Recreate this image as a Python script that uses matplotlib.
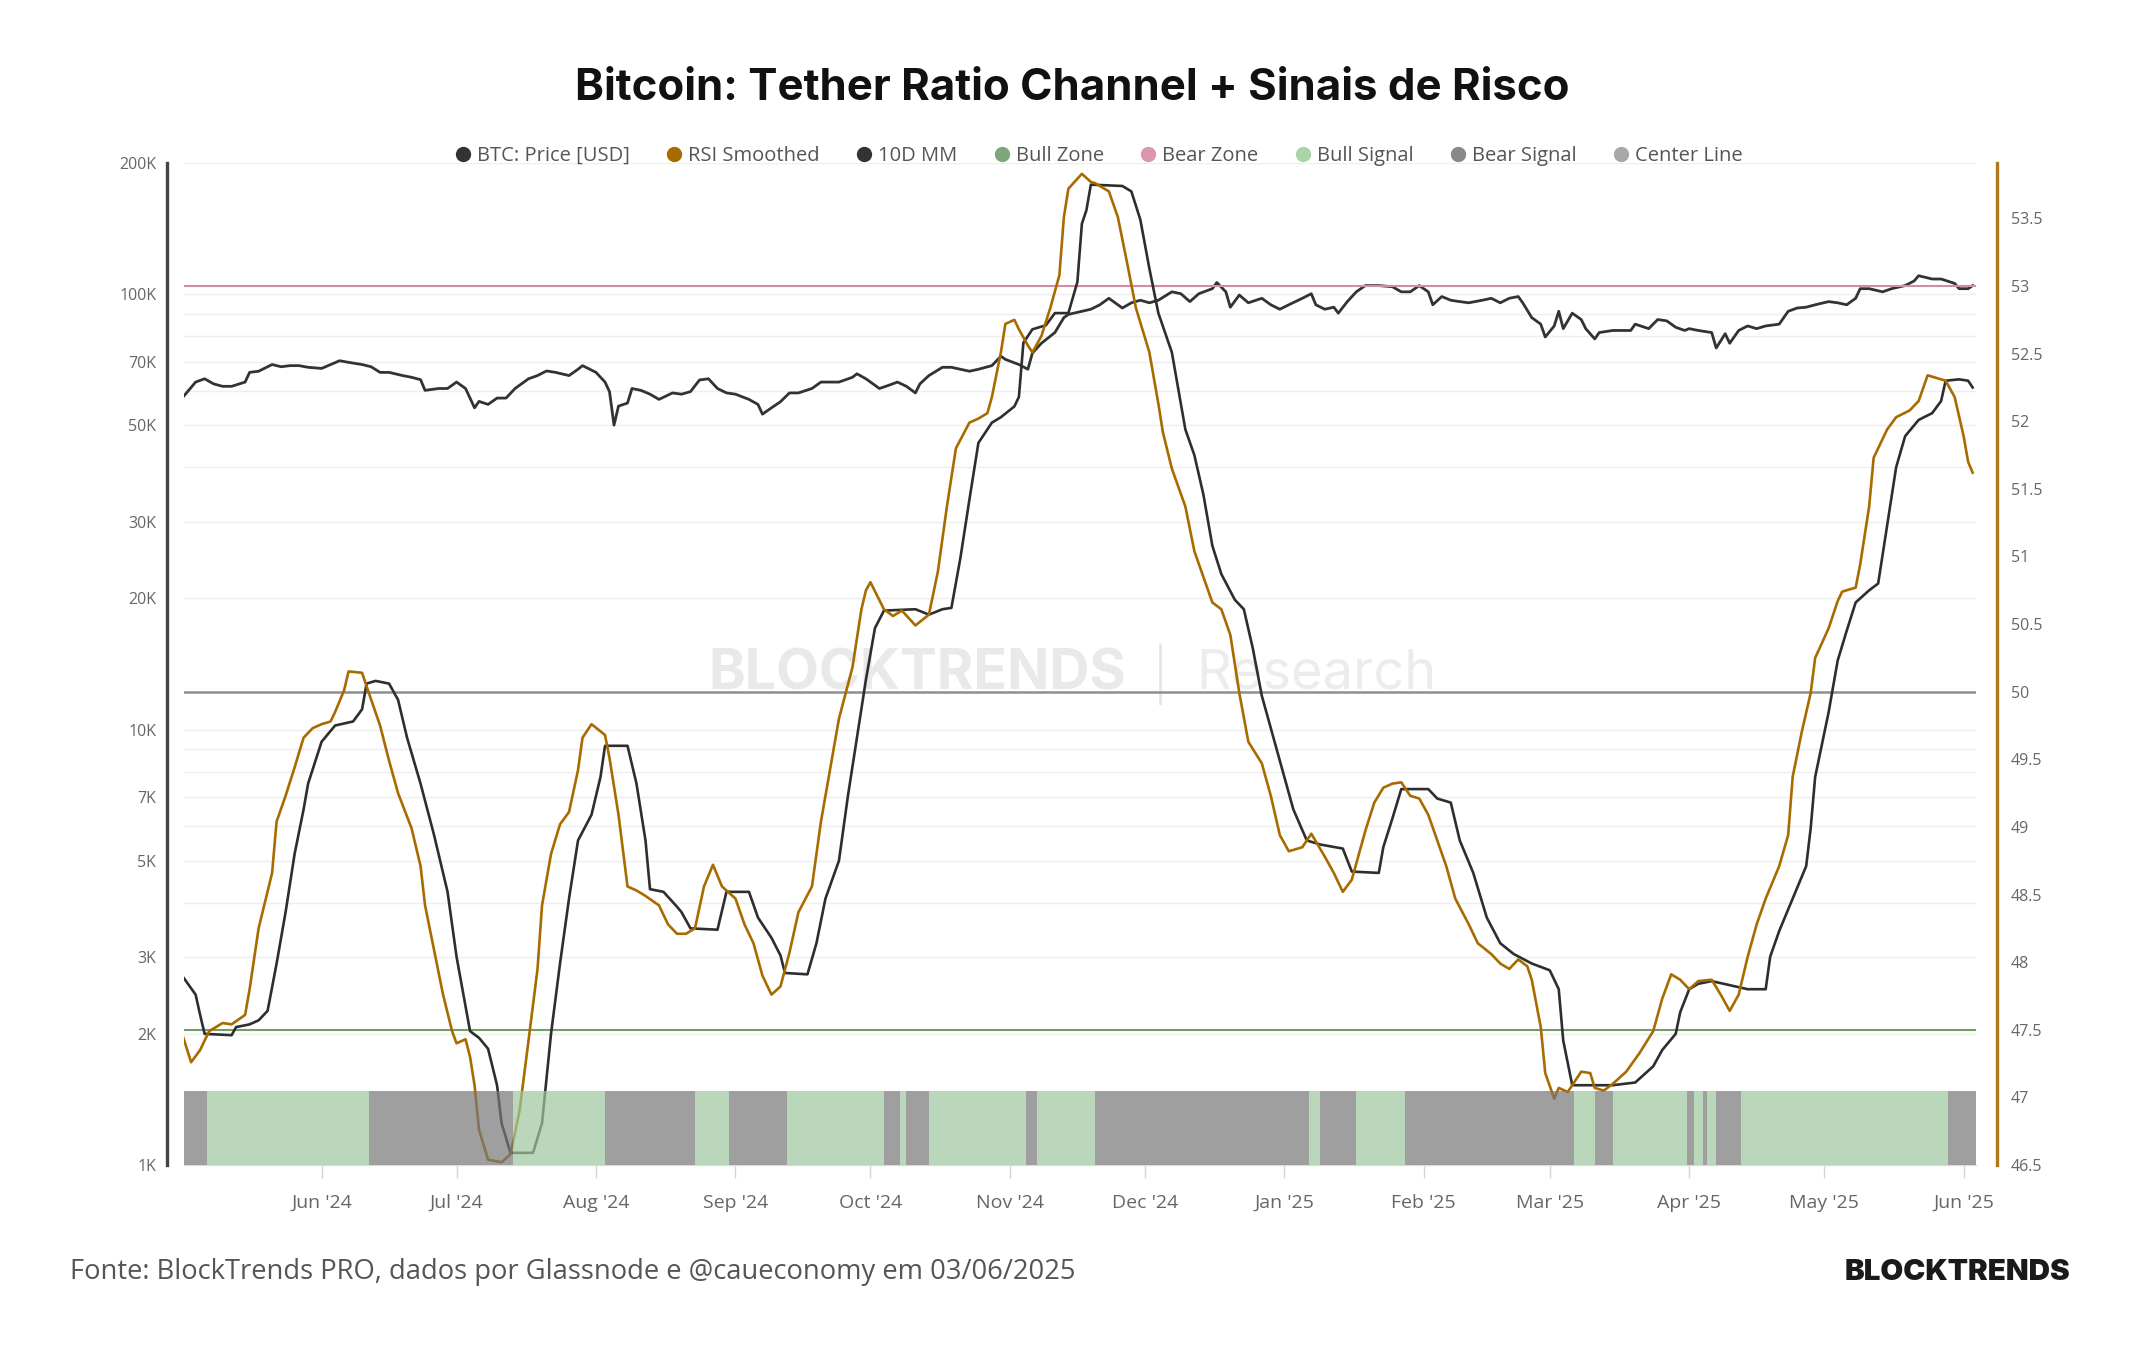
import matplotlib
matplotlib.use("Agg")
import matplotlib.pyplot as plt
import matplotlib.dates as mdates
from matplotlib.lines import Line2D
from matplotlib.ticker import FixedLocator, NullFormatter, FuncFormatter
import pandas as pd

plt.rcParams['font.family'] = ['Open Sans', 'DejaVu Sans']

# ---------------- data ----------------
# RSI Smoothed (right axis)
rsi_dates = [
    '2024-05-01', '2024-05-03', '2024-05-05', '2024-05-07', '2024-05-10', '2024-05-12', '2024-05-15', '2024-05-16',
    '2024-05-18', '2024-05-21', '2024-05-22', '2024-05-24', '2024-05-26', '2024-05-28', '2024-05-30',
    '2024-06-01', '2024-06-03', '2024-06-04', '2024-06-06', '2024-06-07', '2024-06-10', '2024-06-11', '2024-06-14',
    '2024-06-16', '2024-06-18', '2024-06-21', '2024-06-23', '2024-06-24', '2024-06-26', '2024-06-28', '2024-06-30',
    '2024-07-01', '2024-07-03', '2024-07-04', '2024-07-05', '2024-07-06', '2024-07-08', '2024-07-11', '2024-07-13',
    '2024-07-15', '2024-07-17', '2024-07-19', '2024-07-20', '2024-07-22', '2024-07-24', '2024-07-26', '2024-07-28',
    '2024-07-29', '2024-07-31',
    '2024-08-03', '2024-08-04', '2024-08-06', '2024-08-08', '2024-08-10', '2024-08-12', '2024-08-15', '2024-08-17',
    '2024-08-19', '2024-08-21', '2024-08-23', '2024-08-25', '2024-08-27', '2024-08-29',
    '2024-09-01', '2024-09-03', '2024-09-05', '2024-09-07', '2024-09-09', '2024-09-11', '2024-09-13', '2024-09-15',
    '2024-09-18', '2024-09-20', '2024-09-22', '2024-09-24', '2024-09-27', '2024-09-29', '2024-09-30',
    '2024-10-01', '2024-10-04', '2024-10-06', '2024-10-08', '2024-10-11', '2024-10-14', '2024-10-16', '2024-10-18',
    '2024-10-20', '2024-10-23', '2024-10-25', '2024-10-27', '2024-10-28', '2024-10-30', '2024-10-31',
    '2024-11-02', '2024-11-03', '2024-11-05', '2024-11-06', '2024-11-08', '2024-11-10', '2024-11-12', '2024-11-13',
    '2024-11-14', '2024-11-17', '2024-11-19', '2024-11-20', '2024-11-23', '2024-11-25', '2024-11-27', '2024-11-29',
    '2024-12-02', '2024-12-04', '2024-12-05', '2024-12-07', '2024-12-10', '2024-12-12', '2024-12-14', '2024-12-16',
    '2024-12-18', '2024-12-20', '2024-12-22', '2024-12-24', '2024-12-27', '2024-12-29', '2024-12-31',
    '2025-01-02', '2025-01-05', '2025-01-07', '2025-01-10', '2025-01-12', '2025-01-14', '2025-01-16', '2025-01-19',
    '2025-01-21', '2025-01-23', '2025-01-25', '2025-01-27', '2025-01-29', '2025-01-31',
    '2025-02-02', '2025-02-04', '2025-02-06', '2025-02-08', '2025-02-11', '2025-02-13', '2025-02-16', '2025-02-18',
    '2025-02-20', '2025-02-22', '2025-02-24', '2025-02-25', '2025-02-27', '2025-02-28',
    '2025-03-02', '2025-03-03', '2025-03-05', '2025-03-06', '2025-03-08', '2025-03-10', '2025-03-11', '2025-03-13',
    '2025-03-15', '2025-03-18', '2025-03-21', '2025-03-24', '2025-03-26', '2025-03-28', '2025-03-30',
    '2025-04-01', '2025-04-03', '2025-04-06', '2025-04-08', '2025-04-10', '2025-04-12', '2025-04-14', '2025-04-16',
    '2025-04-18', '2025-04-21', '2025-04-23', '2025-04-24', '2025-04-26', '2025-04-28', '2025-04-29',
    '2025-05-02', '2025-05-04', '2025-05-05', '2025-05-08', '2025-05-09', '2025-05-11', '2025-05-12', '2025-05-15',
    '2025-05-17', '2025-05-20', '2025-05-22', '2025-05-24', '2025-05-26', '2025-05-28', '2025-05-30',
    '2025-06-01', '2025-06-02', '2025-06-03']
rsi_vals = [
    47.47, 47.26, 47.35, 47.49, 47.55, 47.54, 47.61, 47.80, 48.25, 48.66, 49.04, 49.23, 49.44, 49.66, 49.73,
    49.76, 49.78, 49.85, 50.01, 50.15, 50.14, 50.04, 49.75, 49.49, 49.25, 48.99, 48.71, 48.42, 48.09, 47.76, 47.49,
    47.40, 47.43, 47.30, 47.09, 46.76, 46.54, 46.52, 46.58, 46.90, 47.42, 47.95, 48.42, 48.80, 49.02, 49.11, 49.42,
    49.66, 49.76,
    49.68, 49.51, 49.09, 48.56, 48.53, 48.49, 48.42, 48.28, 48.21, 48.21, 48.25, 48.56, 48.72, 48.56,
    48.47, 48.28, 48.14, 47.90, 47.76, 47.82, 48.07, 48.37, 48.56, 49.04, 49.42, 49.80, 50.18, 50.61, 50.75,
    50.81, 50.61, 50.56, 50.60, 50.49, 50.57, 50.89, 51.37, 51.80, 51.99, 52.02, 52.06, 52.18, 52.51, 52.72,
    52.75, 52.68, 52.56, 52.51, 52.63, 52.84, 53.08, 53.51, 53.72, 53.83, 53.77, 53.76, 53.70, 53.51, 53.18, 52.84,
    52.51, 52.13, 51.92, 51.65, 51.37, 51.04, 50.85, 50.66, 50.61, 50.42, 49.99, 49.63, 49.47, 49.23, 48.94,
    48.82, 48.85, 48.95, 48.78, 48.66, 48.52, 48.61, 48.97, 49.18, 49.29, 49.32, 49.33, 49.23, 49.21,
    49.09, 48.90, 48.71, 48.47, 48.28, 48.14, 48.06, 47.99, 47.95, 48.02, 47.97, 47.87, 47.52, 47.18,
    46.99, 47.07, 47.04, 47.09, 47.19, 47.18, 47.07, 47.05, 47.10, 47.19, 47.33, 47.49, 47.73, 47.91, 47.87,
    47.80, 47.86, 47.87, 47.76, 47.64, 47.76, 48.04, 48.28, 48.47, 48.71, 48.94, 49.37, 49.70, 49.99, 50.25,
    50.47, 50.67, 50.74, 50.77, 50.94, 51.37, 51.73, 51.94, 52.03, 52.08, 52.15, 52.34, 52.32, 52.30, 52.18,
    51.89, 51.70, 51.62]

# 10D MM (right axis)
mm_dates = [
    '2024-05-01', '2024-05-04', '2024-05-05', '2024-05-06', '2024-05-12', '2024-05-13', '2024-05-16', '2024-05-18',
    '2024-05-20', '2024-05-22', '2024-05-24', '2024-05-26', '2024-05-28', '2024-05-29',
    '2024-06-01', '2024-06-04', '2024-06-08', '2024-06-10', '2024-06-11', '2024-06-13', '2024-06-16', '2024-06-18',
    '2024-06-20', '2024-06-23', '2024-06-26', '2024-06-29',
    '2024-07-01', '2024-07-04', '2024-07-06', '2024-07-08', '2024-07-10', '2024-07-11', '2024-07-13', '2024-07-18',
    '2024-07-20', '2024-07-22', '2024-07-24', '2024-07-26', '2024-07-28', '2024-07-31',
    '2024-08-02', '2024-08-03', '2024-08-08', '2024-08-10', '2024-08-12', '2024-08-13', '2024-08-16', '2024-08-19',
    '2024-08-20', '2024-08-22', '2024-08-28', '2024-08-30',
    '2024-09-04', '2024-09-06', '2024-09-09', '2024-09-11', '2024-09-12', '2024-09-17', '2024-09-19', '2024-09-21',
    '2024-09-24', '2024-09-26', '2024-09-28', '2024-09-30',
    '2024-10-02', '2024-10-04', '2024-10-11', '2024-10-14', '2024-10-17', '2024-10-19', '2024-10-21', '2024-10-23',
    '2024-10-25', '2024-10-28', '2024-10-30',
    '2024-11-02', '2024-11-03', '2024-11-04', '2024-11-06', '2024-11-09', '2024-11-11', '2024-11-14', '2024-11-16',
    '2024-11-17', '2024-11-18', '2024-11-19', '2024-11-26', '2024-11-28', '2024-11-30',
    '2024-12-02', '2024-12-04', '2024-12-07', '2024-12-09', '2024-12-10', '2024-12-12', '2024-12-14', '2024-12-16',
    '2024-12-18', '2024-12-21', '2024-12-23', '2024-12-25', '2024-12-27', '2024-12-30',
    '2025-01-01', '2025-01-03', '2025-01-06', '2025-01-09', '2025-01-14', '2025-01-16', '2025-01-22', '2025-01-23',
    '2025-01-25', '2025-01-27',
    '2025-02-02', '2025-02-04', '2025-02-07', '2025-02-09', '2025-02-12', '2025-02-15', '2025-02-18', '2025-02-21',
    '2025-02-25',
    '2025-03-01', '2025-03-03', '2025-03-04', '2025-03-06', '2025-03-15', '2025-03-20', '2025-03-24', '2025-03-26',
    '2025-03-29', '2025-03-30',
    '2025-04-01', '2025-04-03', '2025-04-06', '2025-04-10', '2025-04-14', '2025-04-18', '2025-04-19', '2025-04-21',
    '2025-04-24', '2025-04-27', '2025-04-28', '2025-04-29',
    '2025-05-02', '2025-05-04', '2025-05-06', '2025-05-08', '2025-05-11', '2025-05-13', '2025-05-15', '2025-05-17',
    '2025-05-19', '2025-05-22', '2025-05-25', '2025-05-27', '2025-05-28', '2025-05-31',
    '2025-06-02', '2025-06-03']
mm_vals = [
    47.90, 47.76, 47.61, 47.47, 47.46, 47.52, 47.54, 47.57, 47.64, 47.99, 48.37, 48.80, 49.13, 49.32,
    49.63, 49.75, 49.78, 49.87, 50.06, 50.08, 50.06, 49.94, 49.66, 49.32, 48.94, 48.52,
    48.04, 47.49, 47.44, 47.36, 47.09, 46.81, 46.59, 46.59, 46.81, 47.47, 47.99, 48.47, 48.90, 49.09,
    49.37, 49.60, 49.60, 49.32, 48.90, 48.54, 48.52, 48.41, 48.37, 48.25, 48.24, 48.52,
    48.52, 48.33, 48.18, 48.05, 47.92, 47.91, 48.14, 48.47, 48.75, 49.23, 49.66, 50.09,
    50.47, 50.60, 50.61, 50.57, 50.61, 50.62, 50.99, 51.42, 51.84, 51.99, 52.03,
    52.11, 52.18, 52.58, 52.68, 52.71, 52.80, 52.80, 53.03, 53.46, 53.56, 53.75, 53.74, 53.70, 53.49,
    53.13, 52.80, 52.51, 52.13, 51.94, 51.75, 51.46, 51.08, 50.87, 50.68, 50.61, 50.32, 49.97, 49.61,
    49.37, 49.13, 48.90, 48.87, 48.84, 48.67, 48.66, 48.85, 49.06, 49.28,
    49.28, 49.21, 49.18, 48.90, 48.66, 48.33, 48.14, 48.06, 47.99,
    47.94, 47.80, 47.42, 47.09, 47.09, 47.11, 47.23, 47.35, 47.47, 47.63,
    47.80, 47.84, 47.86, 47.83, 47.80, 47.80, 48.04, 48.23, 48.47, 48.71, 48.99, 49.37,
    49.85, 50.23, 50.45, 50.66, 50.75, 50.80, 51.23, 51.66, 51.89, 52.01, 52.06, 52.15, 52.30, 52.31,
    52.30, 52.25]

# BTC: Price [USD] (left, log axis)
btc_dates = [
    '2024-05-01', '2024-05-04', '2024-05-06', '2024-05-08', '2024-05-10', '2024-05-12', '2024-05-15', '2024-05-16',
    '2024-05-18', '2024-05-21', '2024-05-23', '2024-05-25', '2024-05-27', '2024-05-29',
    '2024-06-01', '2024-06-03', '2024-06-05', '2024-06-07', '2024-06-10', '2024-06-12', '2024-06-14', '2024-06-16',
    '2024-06-19', '2024-06-21', '2024-06-23', '2024-06-24', '2024-06-27', '2024-06-29',
    '2024-07-01', '2024-07-03', '2024-07-05', '2024-07-06', '2024-07-08', '2024-07-10', '2024-07-12', '2024-07-14',
    '2024-07-17', '2024-07-19', '2024-07-21', '2024-07-23', '2024-07-26', '2024-07-28', '2024-07-29',
    '2024-08-01', '2024-08-03', '2024-08-04', '2024-08-05', '2024-08-06', '2024-08-08', '2024-08-09', '2024-08-11',
    '2024-08-13', '2024-08-15', '2024-08-18', '2024-08-20', '2024-08-22', '2024-08-24', '2024-08-26', '2024-08-28',
    '2024-08-30',
    '2024-09-01', '2024-09-04', '2024-09-06', '2024-09-07', '2024-09-09', '2024-09-11', '2024-09-13', '2024-09-15',
    '2024-09-18', '2024-09-20', '2024-09-22', '2024-09-24', '2024-09-27', '2024-09-28', '2024-09-30',
    '2024-10-03', '2024-10-05', '2024-10-07', '2024-10-09', '2024-10-11', '2024-10-12', '2024-10-14', '2024-10-17',
    '2024-10-19', '2024-10-21', '2024-10-23', '2024-10-25', '2024-10-28', '2024-10-30', '2024-10-31',
    '2024-11-03', '2024-11-05', '2024-11-06', '2024-11-08', '2024-11-11', '2024-11-13', '2024-11-14', '2024-11-17',
    '2024-11-19', '2024-11-21', '2024-11-23', '2024-11-26', '2024-11-28', '2024-11-30',
    '2024-12-02', '2024-12-04', '2024-12-07', '2024-12-09', '2024-12-11', '2024-12-13', '2024-12-16', '2024-12-17',
    '2024-12-19', '2024-12-20', '2024-12-22', '2024-12-24', '2024-12-27', '2024-12-29', '2024-12-31',
    '2025-01-02', '2025-01-05', '2025-01-07', '2025-01-08', '2025-01-10', '2025-01-12', '2025-01-13', '2025-01-15',
    '2025-01-17', '2025-01-19', '2025-01-22', '2025-01-25', '2025-01-27', '2025-01-29', '2025-01-31',
    '2025-02-02', '2025-02-03', '2025-02-05', '2025-02-07', '2025-02-09', '2025-02-11', '2025-02-14', '2025-02-16',
    '2025-02-18', '2025-02-20', '2025-02-22', '2025-02-23', '2025-02-25', '2025-02-27', '2025-02-28',
    '2025-03-02', '2025-03-03', '2025-03-04', '2025-03-06', '2025-03-08', '2025-03-09', '2025-03-11', '2025-03-12',
    '2025-03-15', '2025-03-17', '2025-03-19', '2025-03-20', '2025-03-23', '2025-03-25', '2025-03-27', '2025-03-29',
    '2025-03-31',
    '2025-04-01', '2025-04-03', '2025-04-06', '2025-04-07', '2025-04-09', '2025-04-10', '2025-04-12', '2025-04-14',
    '2025-04-16', '2025-04-18', '2025-04-21', '2025-04-23', '2025-04-25', '2025-04-27', '2025-04-29',
    '2025-05-02', '2025-05-04', '2025-05-06', '2025-05-08', '2025-05-09', '2025-05-11', '2025-05-14', '2025-05-16',
    '2025-05-19', '2025-05-21', '2025-05-22', '2025-05-25', '2025-05-27', '2025-05-30', '2025-05-31',
    '2025-06-02', '2025-06-03']
btc_price = [
    57700, 62800, 63900, 62200, 61400, 61400, 62800, 66100, 66500, 68900, 68100, 68500, 68500, 67900,
    67500, 68900, 70300, 69700, 68900, 68100, 66100, 66100, 65000, 64400, 63600, 60100, 60700, 60700,
    62800, 60700, 54800, 56700, 55800, 57700, 57700, 60700, 63900, 65000, 66600, 66100, 65000, 67200, 68500,
    66100, 62800, 59700, 50000, 55300, 56200, 60700, 60100, 58900, 57300, 59300, 58900, 59700, 63500, 63900, 60700,
    59300,
    58900, 57300, 55800, 53000, 54800, 56600, 59300, 59300, 60700, 62800, 62800, 62800, 64400, 65600, 63900,
    60700, 61700, 62800, 61400, 59300, 62200, 65000, 67900, 67900, 67200, 66500, 67200, 68500, 72000, 70800,
    68900, 67200, 73200, 77100, 81600, 88300, 89800, 91300, 92300, 94500, 97800, 92900, 95500, 96800,
    95500, 96800, 101200, 100200, 96100, 100200, 102900, 106300, 101200, 93300, 99500, 95500, 97800, 94500, 92300,
    94500, 97800, 100200, 94500, 92300, 93300, 90400, 96100, 101200, 104600, 104600, 104000, 101200, 101200, 104600,
    101200, 94500, 98700, 96800, 96100, 95500, 96800, 97800, 95500, 97800, 98700, 95500, 88300, 85300, 79700,
    84500, 91300, 83300, 90400, 87400, 83300, 78900, 81600, 82500, 82500, 82500, 85300, 83300, 87400, 86800, 83900,
    82500,
    83300, 82500, 81600, 75200, 81100, 77100, 82500, 84500, 83300, 84500, 85300, 91300, 92900, 93300, 94500,
    96100, 95500, 94500, 97800, 102900, 102900, 101200, 102900, 104600, 107200, 110200, 108300, 108300, 105800, 102900,
    102900, 104600]

# Bull / Bear signal periods (edges between consecutive periods)
signal_edges = ['2024-05-01', '2024-05-06 12:00', '2024-06-11 12:00', '2024-07-13 12:00', '2024-08-03',
                '2024-08-23', '2024-08-30 12:00', '2024-09-12 12:00', '2024-10-04', '2024-10-07 12:00',
                '2024-10-09', '2024-10-14', '2024-11-04 12:00', '2024-11-07', '2024-11-20',
                '2025-01-06 12:00', '2025-01-09', '2025-01-17', '2025-01-27 18:00', '2025-03-06 12:00',
                '2025-03-11', '2025-03-15', '2025-03-31 12:00', '2025-04-02', '2025-04-04',
                '2025-04-05', '2025-04-07', '2025-04-12 12:00', '2025-05-28 12:00', '2025-06-03 18:00']
signal_kind = ['bear', 'bull', 'bear', 'bull', 'bear', 'bull', 'bear', 'bull', 'bear', 'bull',
               'bear', 'bull', 'bear', 'bull', 'bear', 'bull', 'bear', 'bull', 'bear', 'bull',
               'bear', 'bull', 'bear', 'bull', 'bear', 'bull', 'bear', 'bull', 'bear']

bull_zone = 47.5
bear_zone = 53.0
center_line = 50.0
signal_level = 47.05

price_ticks = [1000, 2000, 3000, 5000, 7000, 10000, 20000, 30000, 50000, 70000, 100000, 200000]
price_labels = ['1K', '2K', '3K', '5K', '7K', '10K', '20K', '30K', '50K', '70K', '100K', '200K']
rsi_ticks = [46.5, 47, 47.5, 48, 48.5, 49, 49.5, 50, 50.5, 51, 51.5, 52, 52.5, 53, 53.5]

assert len(rsi_dates) == len(rsi_vals)
assert len(mm_dates) == len(mm_vals)
assert len(btc_dates) == len(btc_price)
assert len(signal_edges) == len(signal_kind) + 1

# ---------------- colours ----------------
c_price = '#333333'
c_rsi = '#a86b00'
c_mm = '#2e2e2e'
c_bull_zone = '#72a064'
c_bear_zone = '#d48ca4'
c_center = '#8e8e8e'
c_bull_sig = '#9fc79f'
c_bear_sig = '#777777'

# ---------------- figure ----------------
fig = plt.figure(figsize=(21.44, 13.5), dpi=100, facecolor='white')
ax = fig.add_axes([184 / 2144, 185 / 1350, 1792 / 2144, 1002 / 1350])
ax2 = ax.twinx()

x_lo = pd.Timestamp('2024-05-01 10:00')
x_hi = pd.Timestamp('2025-06-03 18:00')

# price on log axis
ax.plot(pd.to_datetime(btc_dates), btc_price, color=c_price, lw=2.0, zorder=3)
ax.set_yscale('log')
ax.set_ylim(1000, 200000)
ax.set_xlim(x_lo, x_hi)

minor_grid = [k * 10 ** d for d in (3, 4) for k in range(2, 10)]
ax.yaxis.set_major_locator(FixedLocator(price_ticks))
ax.set_yticklabels(price_labels)
ax.yaxis.set_minor_locator(FixedLocator(minor_grid))
ax.yaxis.set_minor_formatter(NullFormatter())
ax.grid(axis='y', which='both', color='#eeeeee', lw=1.0, zorder=0)
ax.tick_params(axis='y', which='both', length=0, pad=8, labelsize=11.5, labelcolor='#666666')

ax.xaxis.set_major_locator(mdates.MonthLocator())
ax.xaxis.set_major_formatter(mdates.DateFormatter("%b '%y"))
ax.tick_params(axis='x', length=9, width=1, color='#d6d6d6', pad=12, labelsize=14, labelcolor='#666666')

for s in ['top', 'right']:
    ax.spines[s].set_visible(False)
ax.spines['bottom'].set_color('#dddddd')
ax.spines['bottom'].set_linewidth(1)
ax.spines['left'].set_position(('outward', 12))
ax.spines['left'].set_color('#444444')
ax.spines['left'].set_linewidth(2.4)

# watermark
ax.text(0.409, 0.49, 'BLOCKTRENDS', transform=ax.transAxes, ha='center', va='center',
        fontsize=40, fontweight='bold', family=['Inter', 'DejaVu Sans'], color='#e9e9e9', zorder=1)
ax.text(0.545, 0.49, '|', transform=ax.transAxes, ha='center', va='center',
        fontsize=44, fontweight='light', color='#e6e6e6', zorder=1)
ax.text(0.632, 0.49, 'Research', transform=ax.transAxes, ha='center', va='center',
        fontsize=39, family=['Inter', 'DejaVu Sans'], color='#ececec', zorder=1)

# RSI side
ax2.axhline(bear_zone, color=c_bear_zone, lw=1.5, zorder=2)
ax2.axhline(bull_zone, color=c_bull_zone, lw=1.5, zorder=2)
ax2.axhline(center_line, color=c_center, lw=1.8, zorder=2)
ax2.plot(pd.to_datetime(mm_dates), mm_vals, color=c_mm, lw=1.9, zorder=3)
ax2.plot(pd.to_datetime(rsi_dates), rsi_vals, color=c_rsi, lw=1.9, zorder=4)

edges = pd.to_datetime(signal_edges, format='mixed')
for i, kind in enumerate(signal_kind):
    col = c_bull_sig if kind == 'bull' else c_bear_sig
    ax2.fill_between([edges[i], edges[i + 1]], 46.5, signal_level, color=col, alpha=0.7,
                     lw=0, zorder=6)

ax2.set_ylim(46.5, 53.91)
ax2.set_xlim(x_lo, x_hi)
ax2.yaxis.set_major_locator(FixedLocator(rsi_ticks))
ax2.yaxis.set_major_formatter(FuncFormatter(lambda v, p: '%g' % v))
ax2.tick_params(axis='y', length=0, pad=10, labelsize=11.5, labelcolor='#666666')
for s in ['top', 'left', 'bottom']:
    ax2.spines[s].set_visible(False)
ax2.spines['right'].set_position(('outward', 15))
ax2.spines['right'].set_color('#b07a1c')
ax2.spines['right'].set_linewidth(2.4)

# legend
leg_items = [('BTC: Price [USD]', '#333333'), ('RSI Smoothed', '#a86b00'), ('10D MM', '#333333'),
             ('Bull Zone', '#7fa67a'), ('Bear Zone', '#d996ad'), ('Bull Signal', '#a9d5a6'),
             ('Bear Signal', '#888888'), ('Center Line', '#a8a8a8')]
handles = [Line2D([], [], marker='o', linestyle='', markersize=10, markerfacecolor=c,
                  markeredgecolor=c, label=l) for l, c in leg_items]
fig.legend(handles=handles, loc='center', bbox_to_anchor=(0.512, 1 - 156 / 1350), ncol=8,
           frameon=False, fontsize=14.5, labelcolor='#555555', handletextpad=0.2,
           columnspacing=1.7, handlelength=1.0)

# title and footer
fig.text(0.5, 1 - 88 / 1350, 'Bitcoin: Tether Ratio Channel + Sinais de Risco', ha='center', va='center',
         fontsize=31.5, fontweight='bold', family=['Inter', 'DejaVu Sans'], color='#111111')
fig.text(70 / 2144, 1 - 1272 / 1350, 'Fonte: BlockTrends PRO, dados por Glassnode e @caueconomy em 03/06/2025',
         ha='left', va='center', fontsize=19.7, color='#555555')
fig.text(2070 / 2144, 1 - 1272 / 1350, 'BLOCKTRENDS', ha='right', va='center',
         fontsize=21.3, fontweight='black', family=['Inter', 'DejaVu Sans'], color='#1a1a1a')

fig.savefig('out.png', dpi=100, facecolor='white')
